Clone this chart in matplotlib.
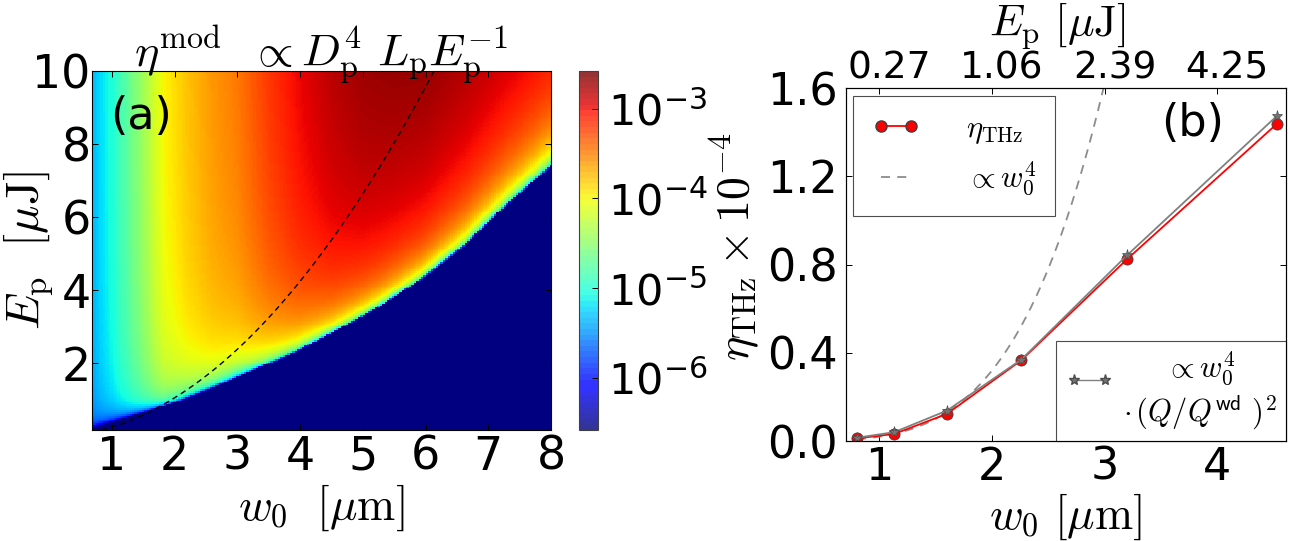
import numpy as np
import matplotlib
matplotlib.use("Agg")
import matplotlib.pyplot as plt
from matplotlib.colors import LogNorm, ListedColormap
from matplotlib.cm import ScalarMappable
from matplotlib.legend_handler import HandlerLine2D
import matplotlib.transforms as mtransforms

plt.rcParams['mathtext.fontset'] = 'cm'
plt.rcParams['font.family'] = 'DejaVu Sans'

# ---- panel (a): values ----
# edge of the dark-blue (cut) region, E_p vs w0
cut_w0 = [0.68, 1.22, 1.89, 2.56, 3.24, 3.91, 4.58, 5.26, 5.93, 6.60, 7.27, 8.00]
cut_ep = [0.20, 0.50, 0.85, 1.30, 1.80, 2.30, 2.90, 3.55, 4.30, 5.20, 6.30, 7.40]
# log10(eta) level far above the edge, per w0 column
lvl_w0 = [0.68, 1.0, 1.4, 1.8, 2.2, 2.6, 3.0, 3.5, 4.0, 4.5, 5.0, 5.5, 6.0, 7.0, 8.0]
lvl_log = [-5.35, -5.0, -4.5, -3.95, -3.7, -3.5, -3.35, -3.05, -2.8, -2.6, -2.47,
           -2.4, -2.35, -2.35, -2.35]
ep_per_w0sq = 0.2656          # dashed line E_p = c * w0^2
cb_ticks = [1e-3, 1e-4, 1e-5, 1e-6]

# ---- panel (b) ----
w0_pts = [0.80, 1.13, 1.60, 2.26, 3.20, 4.53]
eta_thz = [0.012, 0.032, 0.123, 0.366, 0.824, 1.437]
eta_q = [0.015, 0.040, 0.138, 0.369, 0.842, 1.473]
k_w4 = 0.020                  # dashed gray: k * w0^4
top_ticks = [1, 2, 3, 4]
top_labels = ['0.27', '1.06', '2.39', '4.25']


class RaisedLine(HandlerLine2D):
    # put the handle level with the first line of a two-line label
    def create_artists(self, legend, orig_handle, xdescent, ydescent, width, height,
                       fontsize, trans):
        arts = super().create_artists(legend, orig_handle, xdescent, ydescent, width, height,
                                      fontsize, trans)
        for a in arts:
            a.set_ydata(np.asarray(a.get_ydata()) + 8)
        return arts


fig = plt.figure(figsize=(12.9, 5.41), dpi=100)
axa = fig.add_axes([0.0713, 0.2052, 0.3558, 0.6636])
cax = fig.add_axes([0.4488, 0.2052, 0.0147, 0.6636])
axb = fig.add_axes([0.6556, 0.1848, 0.3411, 0.6525])

# heat map
wg = np.linspace(0.68, 8.0, 190)
eg = np.linspace(0.18, 10.0, 190)
W, E = np.meshgrid(wg, eg)
eb = np.interp(W, cut_w0, cut_ep)
base = np.interp(W, lvl_w0, lvl_log)
u = np.clip(1 - eb / E, 1e-12, None)
Z = base + 1.3 * np.log10(u)
Z[E <= eb] = -12
vmin, vmax = 10 ** -6.58, 10 ** -2.58
axa.pcolormesh(wg, eg, 10 ** Z, cmap='jet', norm=LogNorm(vmin, vmax), shading='auto')

wl = np.linspace(0.68, 8, 200)
axa.plot(wl, ep_per_w0sq * wl ** 2, 'k--', lw=1.0, dashes=(4, 3))
axa.set_xlim(0.68, 8)
axa.set_ylim(0.18, 10)
axa.set_xticks([1, 2, 3, 4, 5, 6, 7, 8])
axa.set_yticks([2, 4, 6, 8, 10])
axa.tick_params(direction='in', top=True, right=True, labelsize=33, length=4.5, width=0.7)
axa.tick_params(axis='y', pad=1)
axa.set_xlabel(r'$w_0\ \ [\mu{\rm m}]$', fontsize=33, labelpad=2)
axa.set_ylabel(r'$E_{\rm p}\ \ [\mu{\rm J}]$', fontsize=34)
axa.yaxis.set_label_coords(-0.08, 0.5)
axa.set_title(r'$\eta^{\rm mod}\ \ \propto D_{\rm p}^4\ L_{\rm p}E_{\rm p}^{-1}$', fontsize=33, pad=4)
axa.text(0.107, 0.874, '(a)', transform=axa.transAxes, fontsize=32, ha='center', va='center')

jet = plt.get_cmap('jet')
cols = jet(np.linspace(0, 1, 64))
cols[:, 3] = 0.8
sm = ScalarMappable(norm=LogNorm(vmin, vmax), cmap=ListedColormap(cols))
cb = fig.colorbar(sm, cax=cax, ticks=cb_ticks)
cb.ax.minorticks_off()
cb.ax.tick_params(direction='in', labelsize=31, length=4.5, width=0.7, pad=7)
cb.outline.set_edgecolor('0.25')

# panel (b)
wd = np.linspace(w0_pts[0], 3.05, 200)
axb.plot(wd, k_w4 * wd ** 4, '--', color='0.55', lw=1.3, dashes=(5, 4))
axb.plot(w0_pts, eta_thz, 'o-', color='red', mfc='red', mec='0.25', ms=8, lw=1.3, mew=0.6)
axb.plot(w0_pts, eta_q, '*-', color='0.5', mfc='0.45', mec='0.3', ms=8, lw=1.3, mew=0.5)
axb.set_xlim(0.70, 4.61)
axb.set_ylim(0, 1.6)
axb.set_xticks([1, 2, 3, 4])
axb.set_yticks([0.0, 0.4, 0.8, 1.2, 1.6])
axb.tick_params(direction='in', right=True, labelsize=32, length=4.5, width=0.7)
axb.tick_params(axis='y', pad=6)
axb.set_xlabel(r'$w_0\ [\mu{\rm m}]$', fontsize=33, labelpad=2)
axb.set_ylabel(r'$\eta_{\rm THz}\times 10^{-4}$', fontsize=33)
axb.yaxis.set_label_coords(-0.19, 0.55)
axb.text(0.789, 0.90, '(b)', transform=axb.transAxes, fontsize=32, ha='center', va='center')

ax2 = axb.twiny()
ax2.set_xlim(axb.get_xlim())
ax2.set_xticks(top_ticks)
ax2.set_xticklabels(top_labels)
ax2.tick_params(direction='in', labelsize=27, length=4.5, width=0.7, pad=1)
ax2.set_xlabel(r'$E_{\rm p}\ [\mu{\rm J}]$', fontsize=32, labelpad=2)
ax2.xaxis.set_label_coords(0.48, 1.145)
off = mtransforms.ScaledTranslation(10 / 100, 0, fig.dpi_scale_trans)
for t in ax2.get_xticklabels():
    t.set_transform(t.get_transform() + off)

h_eta = plt.Line2D([], [], marker='o', color='red', mfc='red', mec='0.25', ms=8, lw=1.3)
h_w4 = plt.Line2D([], [], ls='--', color='0.55', lw=1.3, dashes=(5, 4))
h_q = plt.Line2D([], [], marker='*', color='0.5', mfc='0.45', mec='0.3', ms=8, lw=1.0)

leg1 = axb.legend([h_eta, h_w4], [r'$\eta_{\rm THz}$', r'$\propto w_0^4$'], loc='upper left',
                  fontsize=22, numpoints=2, fancybox=False, edgecolor='0.3', framealpha=1,
                  borderaxespad=0.25, handlelength=1.6, handletextpad=1.5, labelspacing=0.45,
                  borderpad=0.6)
leg1.get_frame().set_linewidth(0.8)
axb.add_artist(leg1)
leg2 = axb.legend([h_q], [r'$\propto w_0^4$' + '\n' + r'$\cdot\,(Q/Q^{\mathsf{wd}}\ )^2$'],
                  loc='lower right', fontsize=22, numpoints=2, fancybox=False, edgecolor='0.3',
                  framealpha=1, borderaxespad=0.0, handlelength=1.6, handletextpad=0.3,
                  borderpad=0.3, handler_map={h_q: RaisedLine(numpoints=2)})
leg2.get_frame().set_linewidth(0.8)
for t in leg2.get_texts():
    t.set_multialignment('center')

fig.savefig('out.png', dpi=100)
